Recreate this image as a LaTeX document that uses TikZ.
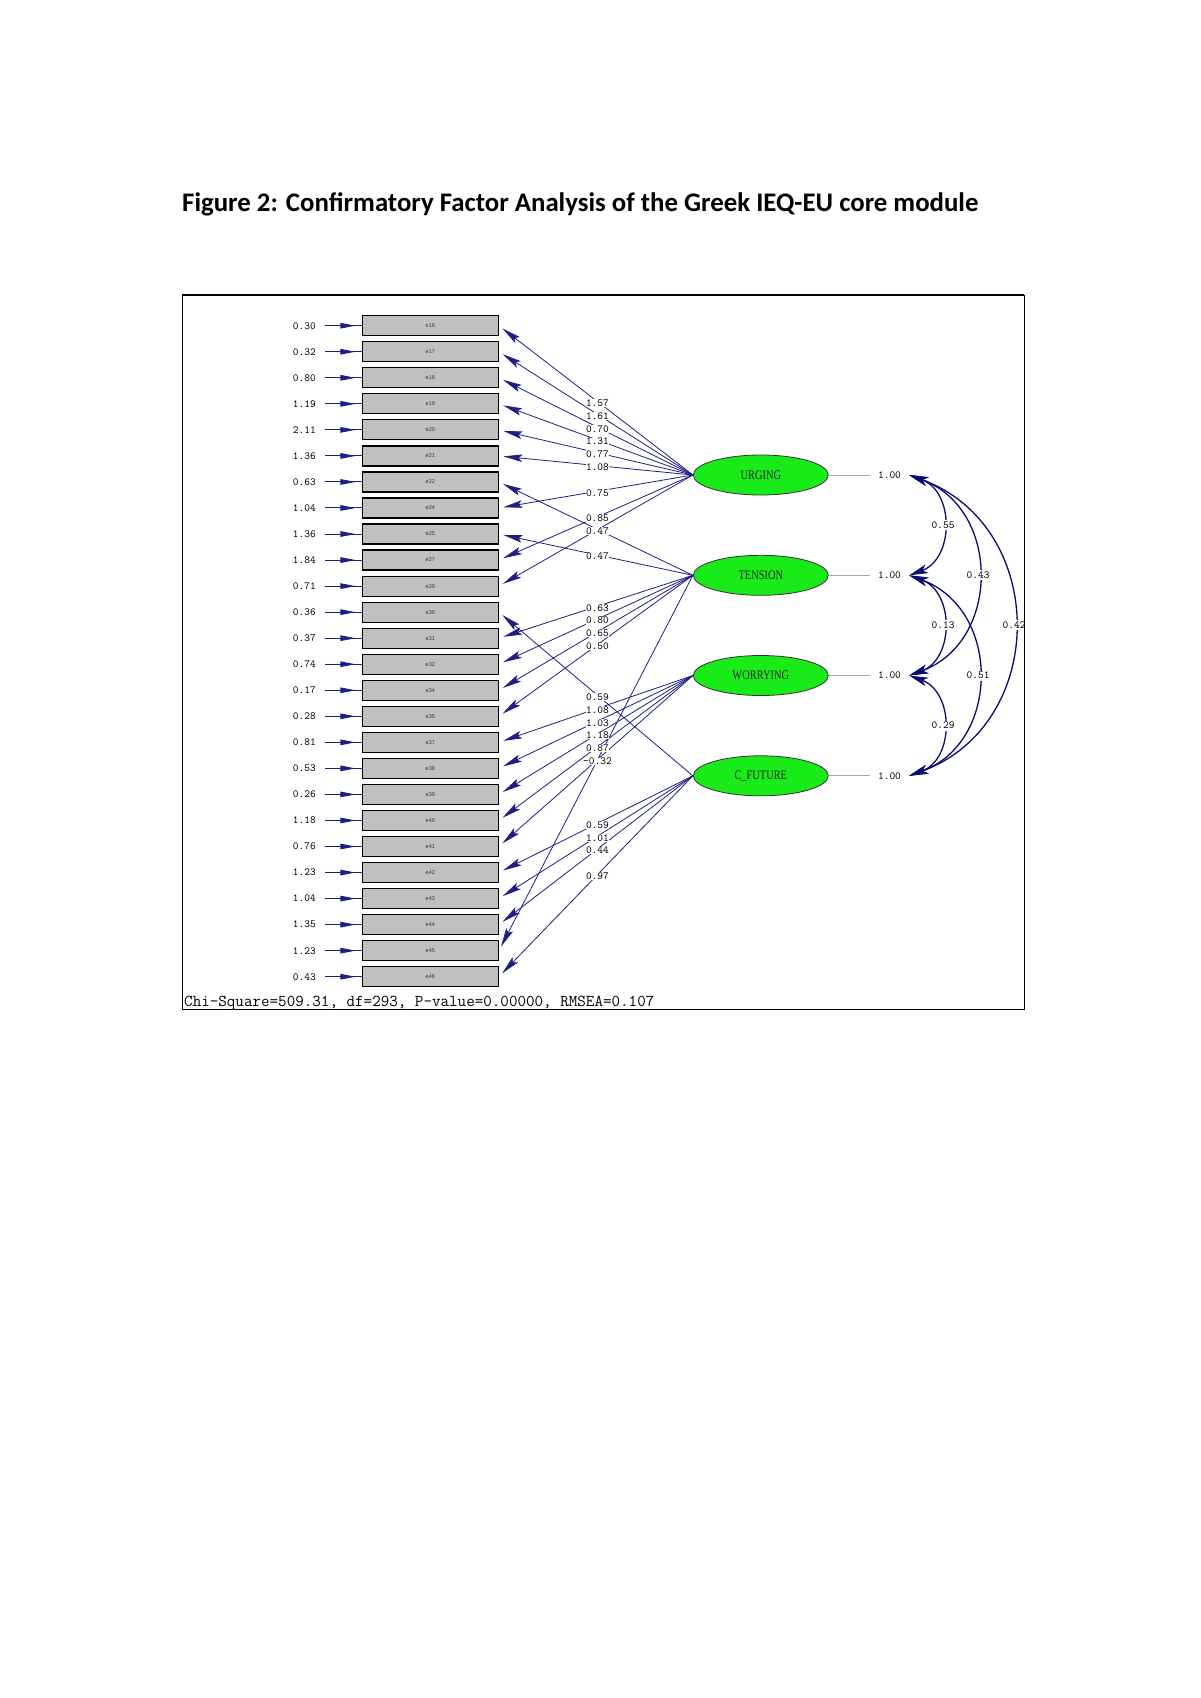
\documentclass[tikz,border=0pt]{standalone}
\usepackage{fontspec}
\setmainfont{Liberation Serif}
\newfontfamily\titlefont{Carlito}
\newfontfamily\lmono{Latin Modern Mono}
\newfontfamily\lsans{Liberation Sans}
\newfontfamily\latfont[FakeStretch=0.8]{Liberation Serif}
\usetikzlibrary{shapes.geometric,arrows.meta,decorations.markings,calc}
\definecolor{navyline}{RGB}{30,30,135}
\definecolor{covline}{RGB}{10,10,120}
\definecolor{latgreen}{RGB}{25,235,25}
\definecolor{boxgray}{RGB}{192,192,192}
\begin{document}
\begin{tikzpicture}[x=1pt,y=-1pt,
  ibox/.style={draw=black, line width=1.2pt, fill=boxgray, minimum width=136pt, minimum height=20pt, inner sep=0pt, font=\lsans\fontsize{5.5}{6}\selectfont, text=black!80},
  varlab/.style={anchor=east, inner xsep=9pt, inner ysep=0pt, font=\lmono\fontsize{10.9}{11}\selectfont},
  errarrow/.style={color=navyline, line width=1pt, postaction={decorate}, decoration={markings, mark=at position 0.83 with {\arrow{Triangle[length=15pt,width=5.5pt]}}}},
  load/.style={color=navyline, line width=0.8pt, -{Stealth[length=19pt,width=7.5pt,inset=3.5pt]}, shorten >=4.5pt},
  lab/.style={fill=white, text=black, inner xsep=0.5pt, inner ysep=0.5pt, font=\lmono\fontsize{10.9}{11}\selectfont, pos=0.492, yshift=-1.5pt},
  latent/.style={ellipse, draw=black!80, line width=0.8pt, fill=latgreen, minimum width=135pt, minimum height=40pt, inner sep=0pt, font=\latfont\fontsize{13}{13}\selectfont, text=black!85},
  onelab/.style={inner xsep=8pt, inner ysep=0pt, font=\lmono\fontsize{10.9}{11}\selectfont},
  cov/.style={color=covline, line width=1.3pt, {Stealth[length=19pt,width=9pt,inset=5pt]}-{Stealth[length=19pt,width=9pt,inset=5pt]}},
  clab/.style={fill=white, text=black, inner sep=1.5pt, font=\lmono\fontsize{10.9}{11}\selectfont}
]
\useasboundingbox (0,0) rectangle (1200,1698);
\fill[white] (0,0) rectangle (1200,1698);

\node[anchor=base west, inner sep=0pt, font=\titlefont\bfseries\fontsize{26.8}{30}\selectfont] (title) at (182,211)
  {Figure 2: Confirmatory Factor Analysis of the Greek IEQ-EU core module};

\begin{scope}
\clip (182,295) rectangle (1024,1009);

% observed boxes and error variances
\foreach \nm/\vv [count=\i from 0] in {16/0.30,17/0.32,18/0.80,19/1.19,20/2.11,21/1.36,22/0.63,24/1.04,25/1.36,27/1.84,29/0.71,30/0.36,31/0.37,32/0.74,34/0.17,35/0.28,37/0.81,38/0.53,39/0.26,40/1.18,41/0.76,42/1.23,43/1.04,44/1.35,45/1.23,46/0.43}{
  \pgfmathsetmacro\yy{325.7+26.04*\i}
  \node[ibox] (b\nm) at (430.3,\yy) {e\nm};
  \node[varlab] (v\nm) at (325,\yy) {\vv};
  \draw[errarrow] (v\nm.east) -- (b\nm.west);
}

% latent variables
\node[latent] (U) at (760.8,475) {URGING};
\node[latent] (T) at (760.8,575.3) {TENSION};
\node[latent] (W) at (760.8,675.5) {WORRYING};
\node[latent] (F) at (760.8,775.8) {C\_FUTURE};

% loadings
\foreach \f/\b in {U/16,U/17,U/18,U/19,U/20,U/21,U/24,U/27,U/29,
                   T/22,T/25,T/31,T/32,T/34,T/35,T/45,
                   W/37,W/38,W/39,W/40,W/41,
                   F/30,F/42,F/43,F/44,F/46}
  \draw[load] (\f.west) -- (b\b.east);

\foreach \f/\b/\l in {U/16/1.57,U/17/1.61,U/18/0.70,U/19/1.31,U/20/0.77,U/21/1.08,U/24/0.75,U/27/0.85,
                      T/22/0.47,T/25/0.47,T/31/0.63,T/32/0.80,T/34/0.65,T/35/0.50,T/45/-0.32,
                      W/37/1.08,W/38/1.03,W/39/1.18,W/40/0.87,
                      F/30/0.59,F/42/0.59,F/43/1.01,F/44/0.44,F/46/0.97}
  \path (\f.west) -- node[lab] {\l} (b\b.east);

% latent variances
\foreach \f in {U,T,W,F}{
  \node[onelab] (o\f) at ($(\f.center)+(128.7,0)$) {1.00};
  \draw[black!35, line width=0.8pt] (\f.east) -- (o\f.west);
}

% covariances
\draw[cov] (oU.east) .. controls ($(oU.east)+(45.3,16.5)$) and ($(oT.east)+(45.3,-16.5)$) .. (oT.east) node[clab,pos=0.5] {0.55};
\draw[cov] (oT.east) .. controls ($(oT.east)+(45.3,16.5)$) and ($(oW.east)+(45.3,-16.5)$) .. (oW.east) node[clab,pos=0.5] {0.13};
\draw[cov] (oW.east) .. controls ($(oW.east)+(45.3,16.5)$) and ($(oF.east)+(45.3,-16.5)$) .. (oF.east) node[clab,pos=0.5] {0.29};
\draw[cov] (oU.east) .. controls ($(oU.east)+(92,33.5)$) and ($(oW.east)+(92,-33.5)$) .. (oW.east) node[clab,pos=0.5] {0.43};
\draw[cov] (oT.east) .. controls ($(oT.east)+(92,33.5)$) and ($(oF.east)+(92,-33.5)$) .. (oF.east) node[clab,pos=0.5] {0.51};
\draw[cov] (oU.east) .. controls ($(oU.east)+(140,51)$) and ($(oF.east)+(140,-51)$) .. (oF.east) node[clab,pos=0.5] {0.42};

\node[anchor=west, inner sep=0pt, font=\lmono\fontsize{16.6}{18}\selectfont] (fit) at (184,1003.5)
  {Chi-Square=509.31, df=293, P-value=0.00000, RMSEA=0.107};
\end{scope}

\draw[line width=1pt] (182,295) rectangle (1024,1009);
\draw[line width=2pt] (182,295) -- (1024,295);
\end{tikzpicture}
\end{document}
